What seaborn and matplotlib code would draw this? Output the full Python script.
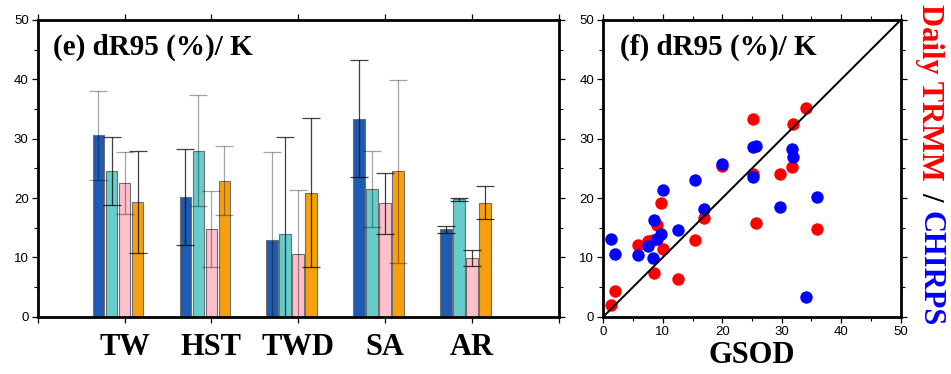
import numpy as np
import pandas as pd
import matplotlib
matplotlib.use("Agg")
import matplotlib.pyplot as plt
import seaborn as sns
from matplotlib.ticker import MultipleLocator, FixedLocator

# ---------------- data ----------------
regions = ["TW", "HST", "TWD", "SA", "AR"]
series = ["S1", "S2", "S3", "S4"]

s1_vals = [30.6, 20.1, 13.0, 33.4, 14.7]
s2_vals = [24.6, 28.0, 14.0, 21.6, 19.8]
s3_vals = [22.5, 14.8, 10.6, 19.1, 9.9]
s4_vals = [19.3, 22.9, 20.9, 24.5, 19.2]

s1_err = [7.5, 8.1, 14.8, 9.8, 0.6]
s2_err = [5.7, 9.4, 16.3, 6.4, 0.25]
s3_err = [5.2, 6.4, 10.8, 5.1, 1.4]
s4_err = [8.6, 5.8, 12.6, 15.4, 2.8]

gsod = [1.25, 2.03, 5.89, 7.5, 8.3, 8.6, 9.1, 9.7, 10.09, 12.5, 15.5,
        16.93, 20.0, 25.22, 25.12, 25.7, 29.77, 31.68, 31.85, 34.03, 35.98]
trmm = [1.95, 4.38, 12.15, 12.76, 12.93, 7.31, 15.46, 19.1, 11.4, 6.3, 12.93,
        16.65, 25.4, 33.32, 24.1, 15.85, 24.05, 25.28, 32.48, 35.1, 14.7]
chirps = [13.12, 10.62, 10.4, 11.9, 9.95, 16.3, 13.04, 13.94, 21.35, 14.6, 23.04,
          18.12, 25.7, 28.65, 23.5, 28.85, 18.44, 28.3, 26.87, 3.4, 20.1]

# ---------------- style ----------------
bar_colors = ["#1f5bb0", "#66cdcc", "#ffc0cb", "#f7a00f"]
err_tone = [["L", "D", "L", "D", "D"],
            ["D", "L", "D", "L", "D"],
            ["L", "L", "L", "D", "D"],
            ["D", "L", "D", "L", "D"]]
tone_alpha = {"L": 0.36, "D": 0.75}

sns.set_style("ticks")
plt.rcParams.update({
    "font.family": ["Liberation Sans", "DejaVu Sans"],
    "text.color": "black",
    "axes.edgecolor": "black",
    "axes.labelcolor": "black",
    "xtick.color": "black",
    "ytick.color": "black",
})
serif = ["Liberation Serif", "DejaVu Serif"]

W, H = 951, 374
fig = plt.figure(figsize=(W / 100, H / 100), dpi=100)

ax1 = fig.add_axes([37.7 / W, 1 - 316.7 / H, 521 / W, 296.7 / H])
ax2 = fig.add_axes([603.3 / W, 1 - 316.7 / H, 297.4 / W, 296.7 / H])

# ---------------- left: bars ----------------
vals = [s1_vals, s2_vals, s3_vals, s4_vals]
errs = [s1_err, s2_err, s3_err, s4_err]
df = pd.DataFrame({
    "region": np.repeat([regions], len(series), axis=0).ravel(),
    "series": np.repeat(series, len(regions)),
    "value": np.ravel(vals),
})
sns.barplot(data=df, x="region", y="value", hue="series", order=regions,
            hue_order=series, palette=bar_colors, saturation=1, width=0.6,
            gap=0.12, edgecolor="#6f6f6f", linewidth=0.8, errorbar=None,
            legend=False, ax=ax1, zorder=2)

bar_conts = list(ax1.containers)
for k, cont in enumerate(bar_conts):
    for j, p in enumerate(cont.patches):
        xc = p.get_x() + p.get_width() / 2
        ax1.errorbar(xc, vals[k][j], yerr=errs[k][j], fmt="none",
                     ecolor="black", alpha=tone_alpha[err_tone[k][j]],
                     elinewidth=0.9, capsize=6.5, capthick=0.9, zorder=3)

off = 0.075
ax1.set_xlim(-1 + off, 5 + off)
ax1.set_ylim(0, 50)
ax1.xaxis.set_major_locator(FixedLocator(np.arange(-1, 6) + off))
ax1.set_xticklabels([""] + regions + [""], fontsize=22, fontweight="bold",
                    family=serif)
ax1.yaxis.set_major_locator(MultipleLocator(10))
ax1.yaxis.set_minor_locator(MultipleLocator(5))
ax1.tick_params(axis="y", which="both", left=True, right=True, direction="out",
                labelsize=9.5, pad=2)
ax1.tick_params(axis="y", which="major", length=4.5, width=0.9)
ax1.tick_params(axis="y", which="minor", length=3, width=0.8)
ax1.tick_params(axis="x", which="major", top=True, bottom=True, direction="out",
                length=4.5, width=0.9, pad=7)
ax1.set_xlabel("")
ax1.set_ylabel("")
for sp in ax1.spines.values():
    sp.set_visible(True)
    sp.set_linewidth(2.0)
ax1.text(0.029, 0.882, "(e) dR95 (%)/ K", transform=ax1.transAxes,
         fontsize=21, fontweight="bold", family=serif, va="baseline", ha="left")

# ---------------- right: scatter ----------------
sns.scatterplot(x=gsod, y=trmm, color="#ff0000", s=80, linewidth=0,
                ax=ax2, zorder=3)
sns.scatterplot(x=gsod, y=chirps, color="#0000ff", s=80, linewidth=0,
                ax=ax2, zorder=4)
ax2.axline((0, 0), slope=1, color="black", lw=1.4, zorder=5)
ax2.set_xlim(0, 50)
ax2.set_ylim(0, 50)
for axis in (ax2.xaxis, ax2.yaxis):
    axis.set_major_locator(MultipleLocator(10))
    axis.set_minor_locator(MultipleLocator(5))
ax2.tick_params(which="both", direction="out", top=True, right=True,
                left=True, bottom=True, labelsize=9.5, pad=2)
ax2.tick_params(which="major", length=4.5, width=0.9)
ax2.tick_params(which="minor", length=3, width=0.8)
for sp in ax2.spines.values():
    sp.set_visible(True)
    sp.set_linewidth(2.0)
ax2.set_xlabel("GSOD", fontsize=22, fontweight="bold", family=serif, labelpad=2.5)
ax2.text(0.055, 0.882, "(f) dR95 (%)/ K", transform=ax2.transAxes,
         fontsize=21, fontweight="bold", family=serif, va="baseline", ha="left")

# multi-coloured right label, reading top to bottom
fig.canvas.draw()
r = fig.canvas.get_renderer()
parts = [("Daily TRMM", "#ff0000"), ("/", "black"), ("CHIRPS", "#0000ff")]
x_base = 922.0
y_cur = H - 4.0
gap = 11.0
for s, c in parts:
    t = fig.text(x_base / W, y_cur / H, s, rotation=-90, rotation_mode="anchor",
                 ha="left", va="baseline", color=c, fontsize=22,
                 fontweight="bold", family=serif)
    bb = t.get_window_extent(r)
    y_cur = bb.y0 - gap

fig.savefig("out.png", dpi=100)
